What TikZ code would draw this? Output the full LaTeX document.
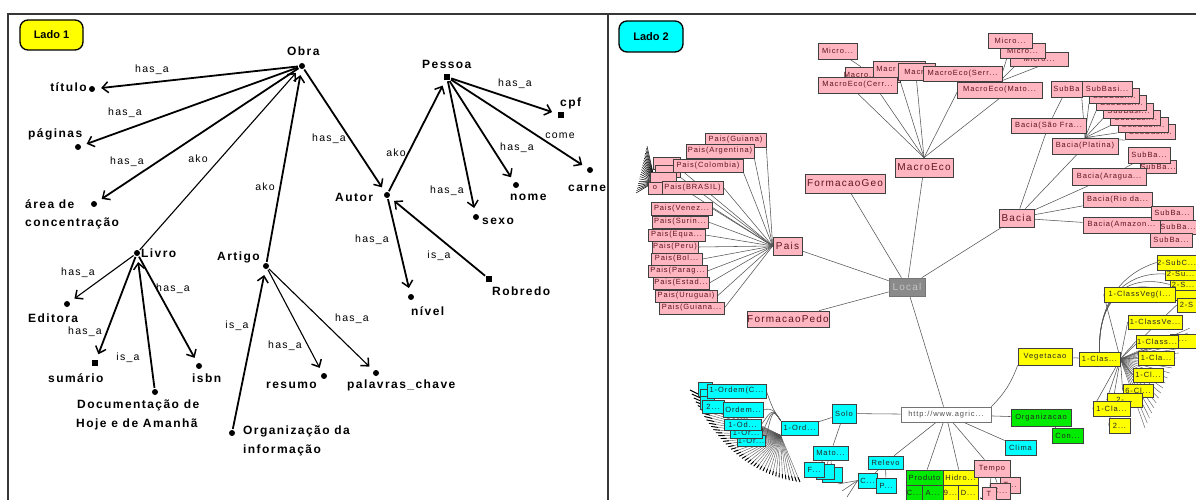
\documentclass[tikz,border=0pt]{standalone}
\usepackage{fontspec}
\setmainfont{Liberation Sans}
\newfontfamily\spaced{Liberation Sans}[LetterSpace=12]
\usetikzlibrary{arrows.meta,backgrounds,calc}
\definecolor{pinkfill}{RGB}{255,182,193}
\definecolor{pinktext}{RGB}{95,20,30}
\definecolor{cyanfill}{RGB}{0,255,255}
\definecolor{yellowfill}{RGB}{255,255,0}
\definecolor{greenfill}{RGB}{0,235,0}
\definecolor{localfill}{RGB}{138,138,138}
\definecolor{localtext}{RGB}{195,195,195}
\definecolor{edgegray}{RGB}{85,85,85}
\definecolor{framegray}{RGB}{55,55,55}
% box given by its corners: style, name, x1, y1, x2, y2, text
\newcommand\bx[7]{%
  \pgfmathsetmacro\bxw{#5-#3}\pgfmathsetmacro\bxh{#6-#4}%
  \pgfmathsetmacro\bxcx{(#3+#5)/2}\pgfmathsetmacro\bxcy{(#4+#6)/2}%
  \node[#1,minimum width=\bxw pt,minimum height=\bxh pt] (#2) at (\bxcx,\bxcy) {\makebox[0pt]{#7}};}
\begin{document}
\begin{tikzpicture}[x=1pt,y=-1pt,
  dot/.style={circle,fill=black,inner sep=0pt,minimum size=6pt},
  sqr/.style={rectangle,fill=black,inner sep=0pt,minimum size=6pt},
  term/.style={font=\spaced\bfseries\fontsize{12}{13}\selectfont,inner sep=0pt},
  rel/.style={font=\spaced\fontsize{10.5}{11}\selectfont,inner sep=0pt},
  arr/.style={line width=1.8pt,-{Straight Barb[length=6pt,width=11pt,line width=1.5pt]},shorten >=6pt,shorten <=1pt},
  arrthin/.style={arr,line width=1.1pt},
  badge/.style={draw=black,line width=1.3pt,rounded corners=8pt,inner sep=0pt,font=\bfseries\fontsize{11}{12}\selectfont},
  rbox/.style={draw=black!75,line width=0.7pt,inner sep=0pt,font=\spaced\fontsize{7.5}{8}\selectfont},
  pk/.style={rbox,fill=pinkfill,text=pinktext},
  pkb/.style={pk,font=\spaced\fontsize{10}{11}\selectfont},
  cy/.style={rbox,fill=cyanfill,text=black!85},
  ye/.style={rbox,fill=yellowfill,text=black!85},
  gn/.style={rbox,fill=greenfill,text=black!85},
  wh/.style={rbox,fill=white,draw=black!55,text=black!70},
  lc/.style={rbox,fill=localfill,draw=localfill!85!black,text=localtext,font=\spaced\fontsize{10}{11}\selectfont},
  ln/.style={draw=edgegray,line width=0.55pt},
]
\useasboundingbox (0,0) rectangle (1196,500);

% frame and divider
\draw[framegray,line width=1.5pt] (8,500) -- (8,14) -- (1196,14);
\draw[framegray,line width=1.5pt] (608,14) -- (608,500);
\node[badge,fill=yellowfill,minimum width=63pt,minimum height=30pt] (lado1) at (51.5,35) {Lado 1};
\node[badge,fill=cyanfill,minimum width=64pt,minimum height=31pt] (lado2) at (651,36.5) {Lado 2};

% ---------- semantic network ----------
\node[dot] (obra) at (302,66) {};
\node[term,anchor=base west] (obraL) at (287,56) {Obra};
\node[dot] (titulo) at (92,89) {};
\node[term,anchor=base east] (tituloL) at (87,92) {título};
\node[dot] (paginas) at (78,147) {};
\node[term,anchor=base west] (paginasL) at (28,138) {páginas};
\node[dot] (area) at (94,204) {};
\node[term,anchor=base west] (areaL1) at (25,208) {área de};
\node[term,anchor=base west] (areaL2) at (25,226) {concentração};
\node[dot] (livro) at (137,253) {};
\node[term,anchor=base west] (livroL) at (141,257) {Livro};
\node[dot] (artigo) at (266,266) {};
\node[term,anchor=base west] (artigoL) at (217,260) {Artigo};
\node[dot] (editora) at (67,304) {};
\node[term,anchor=base west] (editoraL) at (28,322) {Editora};
\node[sqr] (sumario) at (95,363) {};
\node[term,anchor=base west] (sumarioL) at (48,382) {sumário};
\node[dot] (isbn) at (199,366) {};
\node[term,anchor=base west] (isbnL) at (192,382) {isbn};
\node[dot] (doc) at (155,392) {};
\node[term,anchor=base west] (docL1) at (77,408) {Documentação de};
\node[term,anchor=base west] (docL2) at (76,427) {Hoje e de Amanhã};
\node[dot] (org) at (232,433) {};
\node[term,anchor=base west] (orgL1) at (243,434) {Organização da};
\node[term,anchor=base west] (orgL2) at (243,453) {informação};
\node[dot] (resumo) at (324,376) {};
\node[term,anchor=base west] (resumoL) at (266,388) {resumo};
\node[dot] (palavras) at (376,373) {};
\node[term,anchor=base west] (palavrasL) at (347,388) {palavras\_chave};
\node[dot] (autor) at (387,195) {};
\node[term,anchor=base west] (autorL) at (335,201) {Autor};
\node[sqr] (pessoa) at (447,77) {};
\node[term,anchor=base west] (pessoaL) at (422,69) {Pessoa};
\node[sqr] (cpf) at (561,115) {};
\node[term,anchor=base west] (cpfL) at (560,107) {cpf};
\node[dot] (carne) at (590,170) {};
\node[term,anchor=base west] (carneL) at (568,191) {carne};
\node[dot] (nome) at (516,185) {};
\node[term,anchor=base west] (nomeL) at (510,200) {nome};
\node[dot] (sexo) at (476,217) {};
\node[term,anchor=base west] (sexoL) at (482,224) {sexo};
\node[dot] (nivel) at (411,297) {};
\node[term,anchor=base west] (nivelL) at (411,315) {nível};
\node[sqr] (robredo) at (489,279) {};
\node[term,anchor=base west] (robredoL) at (492,295) {Robredo};

\draw[arr] (obra) -- (titulo);
\draw[arr] (obra) -- (paginas);
\draw[arr] (obra) -- (area);
\draw[arrthin] (livro) -- (obra);
\draw[arr] (artigo) -- (obra);
\draw[arr] (obra) -- (autor);
\draw[arr] (autor) -- (pessoa);
\draw[arr] (pessoa) -- (cpf);
\draw[arr] (pessoa) -- (carne);
\draw[arr] (pessoa) -- (nome);
\draw[arr] (pessoa) -- (sexo);
\draw[arr] (autor) -- (nivel);
\draw[arr] (robredo) -- (autor);
\draw[arrthin] (livro) -- (editora);
\draw[arr] (livro) -- (sumario);
\draw[arr] (doc) -- (livro);
\draw[arr] (livro) -- (isbn);
\draw[arr] (org) -- (artigo);
\draw[arrthin] (artigo) -- (resumo);
\draw[arrthin] (artigo) -- (palavras);

\node[rel] (e1) at (152,70) {has\_a};
\node[rel] (e2) at (125,113) {has\_a};
\node[rel] (e3) at (127,162) {has\_a};
\node[rel] (e4) at (198,159) {ako};
\node[rel] (e5) at (265,187) {ako};
\node[rel] (e6) at (329,139) {has\_a};
\node[rel] (e7) at (396,153) {ako};
\node[rel] (e8) at (515,84) {has\_a};
\node[rel] (e9) at (560,136) {come};
\node[rel] (e10) at (517,148) {has\_a};
\node[rel] (e11) at (447,191) {has\_a};
\node[rel] (e12) at (372,240) {has\_a};
\node[rel] (e13) at (439,256) {is\_a};
\node[rel] (e14) at (78,273) {has\_a};
\node[rel] (e15) at (173,289) {has\_a};
\node[rel] (e16) at (85,332) {has\_a};
\node[rel] (e17) at (128,358) {is\_a};
\node[rel] (e18) at (237,326) {is\_a};
\node[rel] (e19) at (285,346) {has\_a};
\node[rel] (e20) at (352,319) {has\_a};

% ---------- hyperbolic tree ----------
% first level
\bx{lc}{local}{889}{278}{925}{296}{Local}
\bx{pkb}{pais}{773}{237}{802}{255}{Pais}
\bx{pkb}{fgeo}{805}{174}{885}{193}{FormacaoGeo}
\bx{pkb}{meco}{895}{158}{953}{177}{MacroEco}
\bx{pkb}{bacia}{999}{209}{1034}{227}{Bacia}
\bx{pkb}{fpedo}{747}{311}{829}{327}{FormacaoPedo}
\bx{wh}{http}{901}{407}{991}{422}{http://www.agric...}

% MacroEco branch
\bx{pk}{mi1}{818}{43}{857}{59}{Micro...}
\bx{pk}{ma2}{845}{67}{900}{82}{\hspace*{-24pt}Macro...}
\bx{pk}{ma3}{873}{61}{925}{77}{\hspace*{-26pt}Macr}
\bx{pk}{ma4}{898}{63}{935}{80}{Macro}
\bx{pk}{mserr}{923}{66}{1002}{81}{MacroEco(Serr...}
\bx{pk}{mcerr}{818}{77}{897}{93}{MacroEco(Cerr...}
\bx{pk}{mmato}{957}{82}{1042}{98}{MacroEco(Mato...}
\bx{pk}{mi4}{1010}{52}{1068}{66}{Micro...}
\bx{pk}{mi3}{1000}{43}{1045}{58}{Micro...}
\bx{pk}{mi2}{988}{33}{1032}{48}{Micro...}

% Bacia branch
\bx{pk}{bsf}{1011}{118}{1086}{133}{Bacia(São Fra...}
\bx{pk}{sb1}{1051}{81}{1082}{97}{SubBa}
\foreach \k in {6,5,...,0}{%
  \pgfmathsetmacro\xa{1082+7.2*\k}\pgfmathsetmacro\ya{81+7.3*\k}%
  \pgfmathsetmacro\xb{\xa+50}\pgfmathsetmacro\yb{\ya+15}%
  \bx{pk}{st\k}{\xa}{\ya}{\xb}{\yb}{SubBasi...}}
\bx{pk}{bpla}{1052}{138}{1118}{154}{Bacia(Platina)}
\bx{pk}{sb2b}{1140}{160}{1176}{173}{SubBa...}
\bx{pk}{sb2}{1128}{147}{1170}{163}{SubBa...}
\bx{pk}{barag}{1072}{168}{1146}{185}{Bacia(Aragua...}
\bx{pk}{brio}{1083}{192}{1152}{207}{Bacia(Rio da...}
\bx{pk}{bamaz}{1083}{217}{1160}{233}{Bacia(Amazon...}
\bx{pk}{sb3}{1151}{206}{1193}{220}{SubBa...}
\bx{pk}{sb4}{1160}{220}{1196}{234}{SubBa...}
\bx{pk}{sb5}{1150}{233}{1192}{247}{SubBa...}

% Pais branch
\bx{pk}{pb1}{653}{157}{680}{169}{}
\bx{pk}{pb2}{655}{165}{680}{177}{}
\bx{pk}{pb3}{650}{172}{676}{184}{}
\bx{pk}{pgui}{705}{133}{766}{147}{Pais(Guiana)}
\bx{pk}{parg}{686}{144}{754}{158}{Pais(Argentina)}
\bx{pk}{pcol}{673}{159}{743}{172}{Pais(Colombia)}
\bx{pk}{po}{648}{182}{662}{194}{o}
\bx{pk}{pbra}{662}{181}{723}{194}{Pais(BRASIL)}
\bx{pk}{pven}{651}{202}{712}{215}{Pais(Venez...}
\bx{pk}{psur}{652}{216}{708}{228}{Pais(Surin...}
\bx{pk}{pequ}{648}{229}{705}{241}{Pais(Equa...}
\bx{pk}{pper}{652}{241}{698}{253}{Pais(Peru)}
\bx{pk}{pbol}{651}{253}{702}{265}{Pais(Bol...}
\bx{pk}{ppar}{648}{265}{707}{277}{Pais(Parag...}
\bx{pk}{pest}{653}{277}{709}{289}{Pais(Estad...}
\bx{pk}{puru}{655}{290}{717}{302}{Pais(Uruguai)}
\bx{pk}{pgui2}{659}{302}{724}{314}{Pais(Guiana...}

% Solo / Relevo branch
\bx{cy}{cs1}{698}{382}{712}{396}{}
\bx{cy}{cs2}{700}{389}{714}{402}{}
\bx{cy}{cs3}{700}{396}{714}{409}{}
\bx{cy}{co1}{707}{384}{766}{398}{1-Ordem(C...}
\bx{cy}{co2}{702}{400}{724}{413}{2...}
\bx{cy}{co3}{723}{402}{763}{417}{Ordem...}
\bx{cy}{co6}{737}{435}{765}{446}{1-Or...}
\bx{cy}{co5}{730}{428}{762}{438}{1-Or...}
\bx{cy}{co4}{724}{419}{761}{430}{1-Od...}
\bx{cy}{c1o}{781}{421}{818}{435}{1-Ord...}
\bx{cy}{solo}{832}{404}{856}{423}{Solo}
\bx{cy}{mato}{813}{446}{848}{460}{Mato...}
\bx{cy}{cb1}{822}{467}{842}{482}{}
\bx{cy}{cb2}{816}{464}{834}{479}{}
\bx{cy}{cf}{804}{462}{824}{477}{F...}
\bx{cy}{relevo}{868}{456}{903}{469}{Relevo}
\bx{cy}{cc}{858}{473}{877}{488}{C...}
\bx{cy}{cp}{876}{478}{896}{493}{P...}
\bx{cy}{clima}{1005}{440}{1036}{455}{Clima}

% green, yellow and pink leaves under the root
\bx{gn}{orgz}{1011}{409}{1071}{426}{Organizacao}
\bx{gn}{con}{1052}{428}{1083}{443}{Con...}
\bx{gn}{prod}{906}{470}{943}{485}{Produto}
\bx{gn}{gc}{906}{485}{922}{500}{C...}
\bx{gn}{ga}{922}{485}{943}{500}{A...}
\bx{ye}{hidro}{943}{470}{978}{485}{Hidro...}
\bx{ye}{y9}{943}{485}{958}{500}{9...}
\bx{ye}{yd}{958}{485}{978}{500}{D...}
\bx{pk}{tempo}{974}{460}{1010}{477}{Tempo}
\bx{pk}{tt}{1000}{477}{1020}{493}{T...}
\bx{pk}{tc}{990}{483}{1010}{499}{C...}
\bx{pk}{tT}{982}{487}{996}{500}{T}

% Vegetacao branch
\bx{ye}{veg}{1018}{348}{1072}{365}{Vegetacao}
\bx{ye}{ycl}{1079}{352}{1120}{366}{1-Clas...}
\bx{ye}{ys4}{1175}{290}{1196}{300}{}
\bx{ye}{ys3}{1170}{279}{1196}{290}{2-S...}
\bx{ye}{ys2}{1165}{268}{1196}{280}{2-Su...}
\bx{ye}{ys1}{1157}{255}{1196}{270}{2-SubC...}
\bx{ye}{y1cv}{1104}{287}{1175}{302}{1-ClassVeg(I...}
\bx{ye}{y2s}{1177}{298}{1196}{312}{2-S}
\bx{ye}{y1cve}{1128}{315}{1182}{329}{1-ClassVe...}
\bx{ye}{ydots}{1170}{334}{1196}{348}{...}
\bx{ye}{y1class}{1136}{335}{1178}{348}{1-Class...}
\bx{ye}{y1cla}{1138}{351}{1174}{365}{1-Cla...}
\bx{ye}{y1cl}{1133}{368}{1163}{382}{1-Cl...}
\bx{ye}{y6cl}{1123}{384}{1153}{397}{6-Cl...}
\bx{ye}{y2p}{1107}{393}{1142}{407}{2-...}
\bx{ye}{y1cla2}{1093}{401}{1130}{416}{1-Cla...}
\bx{ye}{y2d}{1109}{418}{1130}{433}{2...}

\begin{pgfonlayer}{background}
  \fill[white] (0,0) rectangle (1196,500);
  % root links
  \foreach \n in {pais,fgeo,meco,bacia,fpedo,http}{\draw[ln] (local) -- (\n);}
  % MacroEco
  \foreach \n in {mcerr,ma2,ma3,ma4,mserr,mmato}{\draw[ln] (meco.north) -- (\n.south);}
  \draw[ln] (mi1) -- (ma2);
  \foreach \n in {mi2,mi3,mi4}{\draw[ln] (mmato.north) -- (\n.south);}
  % Bacia
  \foreach \n in {bsf,bpla,barag,brio,bamaz}{\draw[ln] (bacia) -- (\n);}
  \draw[ln] (bsf) -- (sb1);
  \foreach \k in {0,...,6}{\draw[ln] (bpla.north) -- (st\k.south west);}
  \draw[ln] (barag) -- (sb2);
  \draw[ln] (barag) -- (sb2b);
  \foreach \n in {sb3,sb4,sb5}{\draw[ln] (bamaz.east) -- (\n);}
  % Pais
  \foreach \n in {pgui,parg,pcol,pb1,pb2,pb3}{\draw[ln] (pais.west) -- (\n.south east);}
  \foreach \n in {pbra,pven,psur,pequ,pper,pbol,ppar,pest,puru,pgui2}{\draw[ln] (pais.west) -- (\n.east);}
  \foreach \t in {0,0.05,...,1.01}{\draw[black,line width=0.5pt] (po.north) -- ({647-11*\t},{146+47*\t});}
  % root of the site
  \foreach \n in {solo,relevo,prod,hidro,tempo,clima,orgz}{\draw[ln] (http) -- (\n);}
  \draw[ln] (http.north east) to[bend right=12] (veg.south west);
  \draw[ln] (orgz) -- (con);
  \draw[ln] (solo) -- (c1o);
  \draw[ln] (solo) -- (mato);
  \foreach \n in {cf,cb1,cb2}{\draw[ln] (mato) -- (\n);}
  \draw[ln] (relevo) -- (cc);
  \draw[ln] (relevo) -- (cp);
  \foreach \n in {gc,ga}{\draw[ln] (prod) -- (\n);}
  \foreach \n in {y9,yd}{\draw[ln] (hidro) -- (\n);}
  \foreach \n in {tt,tc,tT}{\draw[ln] (tempo) -- (\n);}
  \foreach \n in {co1,co3,co4,co5,co6}{\draw[ln] (c1o.north west) .. controls ($(c1o.north west)+(-8,-12)$) .. (\n.east);}
  % fringe of the soil orders
  \foreach \t in {0,0.025,...,1.01}{%
    \pgfmathsetmacro\px{(1-\t)^2*690+2*\t*(1-\t)*728+\t^2*800}%
    \pgfmathsetmacro\py{(1-\t)^2*390+2*\t*(1-\t)*472+\t^2*482}%
    \draw[edgegray,line width=0.4pt] (c1o.south west) -- (\px,\py);
    \draw[black,line width=0.9pt] (\px,\py) -- ($(\px,\py)!0.1!(c1o.south west)$);}
  \foreach \a/\b in {838/484,842/491,847/497}{\draw[ln] (cc.west) -- (\a,\b);}
  \foreach \a/\b in {986/500,991/500,980/498}{\draw[black,line width=0.8pt] (tT.south) -- (\a,\b);}
  % vegetation classes
  \draw[ln] (veg) -- (ycl);
  \foreach \n in {y1cv,y1cve,y1class,y1cla,y1cl,y6cl,y2p,y1cla2,y2d,ydots,y2s}{\draw[ln] (ycl.east) -- (\n.west);}
  \foreach \n in {ys1,ys2,ys3,ys4}{\draw[ln] (ycl.north) .. controls (1098,300) and (1125,272) .. (\n.west);}
  \foreach \t in {0,0.05,...,1.01}{%
    \pgfmathsetmacro\px{1190-45*\t}\pgfmathsetmacro\py{328+100*\t}%
    \draw[edgegray,line width=0.4pt] (ycl.east) -- (\px,\py);}
\end{pgfonlayer}
\end{tikzpicture}
\end{document}
